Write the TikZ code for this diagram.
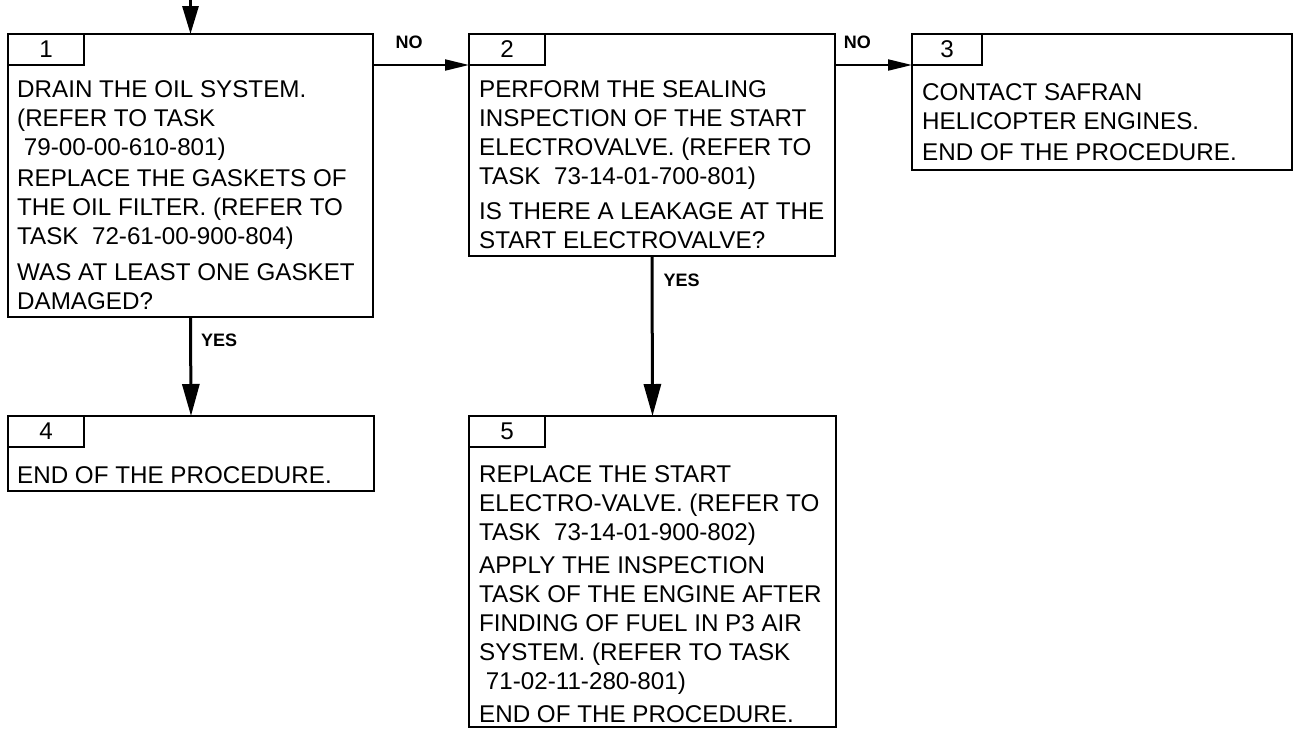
\documentclass[tikz,border=0pt]{standalone}
\usepackage{fontspec}
\setmainfont{Liberation Sans}
\usetikzlibrary{arrows.meta, positioning}

\begin{document}
\begin{tikzpicture}[x=1pt, y=-1pt,
  box/.style={rectangle, draw, line width=2.5pt, anchor=north west,
    inner sep=0pt, outer sep=0pt},
  tabbox/.style={box, minimum width=76pt, minimum height=31pt,
    font=\fontsize{24.2pt}{29pt}\selectfont},
  txt/.style={anchor=north west, align=left, inner sep=0pt,
    font=\fontsize{24.2pt}{29pt}\selectfont},
  lbl/.style={inner sep=0pt, font=\fontsize{18pt}{20pt}\selectfont\bfseries},
  down/.style={-{Triangle[length=32pt, width=17pt]}, line width=3pt},
  side/.style={-{Triangle[length=24pt, width=11pt]}, line width=2pt},
]
\useasboundingbox (0,0) rectangle (1293,729);

% Boxes
\node[box, minimum width=365pt, minimum height=283pt] (b1) at (8,34) {};
\node[box, minimum width=366pt, minimum height=222pt] (b2) at (469,34) {};
\node[box, minimum width=380pt, minimum height=136pt] (b3) at (912,34) {};
\node[box, minimum width=366pt, minimum height=75pt] (b4) at (8,416) {};
\node[box, minimum width=367pt, minimum height=311pt] (b5) at (469,416) {};

% Step numbers
\node[tabbox] (t1) at (b1.north west) {1};
\node[tabbox] (t2) at (b2.north west) {2};
\node[tabbox, minimum width=70pt] (t3) at (b3.north west) {3};
\node[tabbox] (t4) at (b4.north west) {4};
\node[tabbox] (t5) at (b5.north west) {5};

% Texts
\node[txt] (x1) at ([shift={(9,46)}]b1.north west) {DRAIN THE OIL SYSTEM.\\
(REFER TO TASK\\
\ 79-00-00-610-801)\\[2pt]
REPLACE THE GASKETS OF\\
THE OIL FILTER. (REFER TO\\
TASK~~72-61-00-900-804)\\[7pt]
WAS AT LEAST ONE GASKET\\
DAMAGED?};
\node[txt] (x2) at ([shift={(10,46)}]b2.north west) {PERFORM THE SEALING\\
INSPECTION OF THE START\\
ELECTROVALVE. (REFER TO\\
TASK~~73-14-01-700-801)\\[6pt]
IS THERE A LEAKAGE AT THE\\
START ELECTROVALVE?};
\node[txt] (x3) at ([shift={(10,49)}]b3.north west) {CONTACT SAFRAN\\
HELICOPTER ENGINES.\\[2pt]
END OF THE PROCEDURE.};
\node[txt] (x4) at ([shift={(9,50)}]b4.north west) {END OF THE PROCEDURE.};
\node[txt] (x5) at ([shift={(10,49)}]b5.north west) {REPLACE THE START\\
ELECTRO-VALVE. (REFER TO\\
TASK~~73-14-01-900-802)\\[4pt]
APPLY THE INSPECTION\\
TASK OF THE ENGINE AFTER\\
FINDING OF FUEL IN P3 AIR\\
SYSTEM. (REFER TO TASK\\
\ 71-02-11-280-801)\\[4pt]
END OF THE PROCEDURE.};

% Arrows
\coordinate (start) at (190.5,0);
\draw[down, -{Triangle[length=28pt, width=16pt]}] (start) -- (b1.north);
\draw[side] (t1.south -| b1.east) -- node[lbl, pos=0.375, above=15pt] {NO} (t2.south -| b2.west);
\draw[side] (t2.south -| b2.east) -- node[lbl, pos=0.29, above=15pt] {NO} (t3.south -| b3.west);
\draw[down] (b1.south) -- node[lbl, pos=0.24, right=9pt] {YES} (b4.north);
\draw[down] (b2.south) -- node[lbl, pos=0.15, right=10pt] {YES} (b5.north);

\end{tikzpicture}
\end{document}
